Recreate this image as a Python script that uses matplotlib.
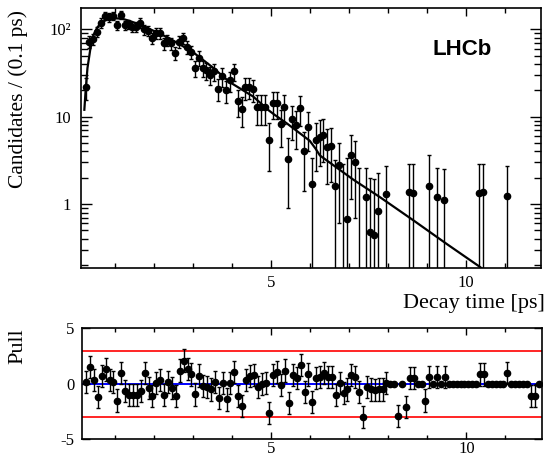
import numpy as np
import matplotlib
matplotlib.use('Agg')
import matplotlib.pyplot as plt
from matplotlib.ticker import FixedLocator, FixedFormatter, LogLocator, MultipleLocator, NullFormatter

plt.rcParams['font.family'] = ['Liberation Serif', 'DejaVu Serif']

nan = np.nan

# bin centres, 0.1 ps bins
t_bins = np.round(0.25 + 0.1 * np.arange(117), 2)

# weighted candidates per bin (nan = nothing drawn in the upper panel)
counts = [21.7, 72, 77, 94, 119, 142, 137, 142, 112, 146,
          112, 115, 107, 107, 119, 100, 96, 79, 90, 90,
          69, 75, 69, 54, 72, 79, 63, 55, 36, 47,
          36, 34, 30, 33, 21, 29, 20, 26, 33, 15,
          12.3, 21.7, 22, 20.6, 12.8, 12.8, 12.8, 5.4, 14.2, 14.2,
          8.2, 13, 3.3, 9.4, 8.0, 12.5, 4.0, 7.7, 1.7, 5.4,
          5.9, 6.2, 4.5, 4.6, 1.6, 2.8, 0.1, 0.67, 3.65, 3.0,
          0.1, nan, 1.2, 0.48, 0.44, 0.83, nan, 1.3, nan, nan,
          nan, nan, nan, 1.39, 1.35, nan, nan, nan, 1.62, nan,
          1.2, nan, 1.1, nan, nan, nan, nan, nan, nan, nan,
          nan, 1.35, 1.39, nan, nan, nan, nan, nan, 1.25, nan,
          nan, nan, nan, nan, nan, nan, nan]

count_err = [6.1, 11, 11.4, 12.6, 14.2, 15.5, 15.2, 15.5, 13.8, 15.7,
             13.8, 13.9, 13.4, 13.4, 14.2, 13, 12.7, 11.6, 12.3, 12.3,
             10.8, 11.3, 10.8, 9.6, 11, 11.6, 10.3, 9.6, 7.8, 8.9,
             7.8, 7.6, 7.1, 7.5, 6, 7, 5.8, 6.6, 7.5, 5,
             4.6, 6.1, 6.1, 5.9, 4.7, 4.7, 4.7, 3, 4.9, 4.9,
             3.7, 4.7, 2.4, 4, 3.7, 4.6, 2.6, 3.6, 1.7, 3,
             3.2, 3.2, 2.8, 2.8, 1.6, 2.2, 2.8, 2.7, 2.5, 2.3,
             2.5, nan, 1.4, 1.5, 1.5, 1.45, nan, 1.45, nan, nan,
             nan, nan, nan, 1.5, 1.5, nan, nan, nan, 2.0, nan,
             1.4, nan, 1.4, nan, nan, nan, nan, nan, nan, nan,
             nan, 1.5, 1.5, nan, nan, nan, nan, nan, 1.45, nan,
             nan, nan, nan, nan, nan, nan, nan]

pulls = [0.18, 1.5, 0.33, -1.2, 0.7, 1.3, 0.33, 0.18, -1.5, 1.0,
         -0.66, -1.0, -1.0, -1.0, -0.66, 1.0, -0.4, -1.1, 0.1, 0.33,
         -1.0, 0.18, -0.4, -1.1, 1.2, 2.1, 1.35, 0.85, -0.95, 0.75,
         -0.2, -0.25, -0.5, 0.18, -1.3, 0.1, -1.4, 0.1, 1.1, -1.1,
         -2.0, 0.33, 0.7, 0.8, -0.3, 0.0, 0.1, -2.6, 0.8, 1.1,
         -0.1, 1.2, -1.7, 0.8, 0.5, 1.7, -0.7, 0.85, -1.6, 0.5,
         0.65, 1.0, 0.65, 0.65, -1.0, 0.1, -0.85, -0.5, 0.8, 0.65,
         -0.7, -3.0, -0.3, -0.5, -0.55, -0.5, -0.5, 0.1, 0, 0,
         -2.9, 0, -2.1, 0.5, 0.5, 0, 0, -1.5, 0.65, 0,
         0.65, 0, 0.65, 0, 0, 0, 0, 0, 0, 0,
         0, 0.85, 0.85, 0, 0, 0, 0, 0, 1.0, 0,
         0, 0, 0, 0, -1.1, -1.1, 0]

# bins with no candidates: pull drawn at 0 without error bar
empty_bins = [78, 79, 81, 85, 86, 89, 91, 93, 94, 95, 96, 97, 98, 99, 100,
              103, 104, 105, 106, 107, 109, 110, 111, 112, 113, 116]

# fitted decay-time model
fit_t = [0.22, 0.25, 0.3, 0.37, 0.45, 0.55, 0.65, 0.8, 1.0, 1.2, 1.4, 1.7, 2.0,
         2.4, 3.0, 3.5, 3.94, 4.55, 4.95, 5.1, 5.41, 6.0, 6.15, 6.26, 7.12,
         7.8, 8.66, 9.51, 10.37, 10.5]
fit_val = [12, 19, 36, 58, 85, 105, 118, 130, 134, 132, 124, 110, 96,
           79, 55, 37, 25, 17, 11.8, 10.5, 8.4, 5.3, 4.3, 3.6, 1.9,
           1.2, 0.65, 0.35, 0.19, 0.17]

counts = np.array(counts, dtype=float)
count_err = np.array(count_err, dtype=float)
pulls = np.array(pulls, dtype=float)
pull_err = np.ones(len(pulls))
pull_err[empty_bins] = 0

lo = np.where(counts - count_err > 0, count_err, counts - 1e-3)

fig = plt.figure(figsize=(5.46, 4.57), dpi=100)
ax = fig.add_axes([0.1484, 0.4129, 0.8425, 0.5689])
axp = fig.add_axes([0.1496, 0.0383, 0.8425, 0.2433])

xlim = (0.135, 11.93)

ax.plot(fit_t, fit_val, color='black', lw=1.6, zorder=3)
ax.errorbar(t_bins, counts, yerr=[lo, count_err], fmt='o', color='black',
            ms=4.5, elinewidth=1.0, capsize=1.5, capthick=1.0, zorder=4)
ax.set_yscale('log')
ax.set_xlim(*xlim)
ax.set_ylim(0.184, 174)
ax.yaxis.set_major_locator(FixedLocator([1, 10, 100]))
ax.yaxis.set_major_formatter(FixedFormatter(['1', '10', '10²']))
ax.yaxis.set_minor_locator(LogLocator(base=10, subs=np.arange(2, 10), numticks=20))
ax.yaxis.set_minor_formatter(NullFormatter())
ax.xaxis.set_major_locator(MultipleLocator(5))
ax.xaxis.set_minor_locator(MultipleLocator(1))
ax.tick_params(which='both', direction='in', top=True, right=True, labelsize=12, width=1)
ax.tick_params(axis='x', which='major', length=6, pad=5)
ax.tick_params(axis='x', which='minor', length=3.5)
ax.tick_params(axis='y', which='major', length=8, pad=7)
ax.tick_params(axis='y', which='minor', length=5)
for s in ax.spines.values():
    s.set_linewidth(1.2)

ax.set_ylabel('Candidates / (0.1 ps)', fontsize=15.5, loc='top')
ax.yaxis.set_label_coords(-0.116, 0.995)
ax.set_xlabel('Decay time [ps]', fontsize=16, loc='right')
ax.xaxis.set_label_coords(1.009, -0.1)
ax.text(0.829, 0.84, 'LHCb', transform=ax.transAxes, ha='center', va='center',
        fontsize=16, fontweight='bold', family='Liberation Sans')

# pull panel
axp.axhline(3, color='red', lw=1.2, zorder=1)
axp.axhline(-3, color='red', lw=1.2, zorder=1)
axp.axhline(0, color='blue', lw=1.4, zorder=1)
axp.errorbar(t_bins, pulls, yerr=pull_err, fmt='o', color='black',
             ms=4.5, elinewidth=1.0, capsize=1.5, capthick=1.0, zorder=3)
axp.set_xlim(*xlim)
axp.set_ylim(-5, 5)
axp.yaxis.set_major_locator(FixedLocator([-5, 0, 5]))
axp.yaxis.set_major_formatter(FixedFormatter(['-5', '0', '5']))
axp.xaxis.set_major_locator(MultipleLocator(5))
axp.xaxis.set_minor_locator(MultipleLocator(1))
axp.tick_params(which='both', direction='in', top=True, right=True, labelsize=12, width=1)
axp.tick_params(axis='x', which='major', length=5, pad=1)
axp.tick_params(axis='x', which='minor', length=3)
axp.tick_params(axis='y', which='major', length=6, pad=5)
for s in axp.spines.values():
    s.set_linewidth(1.2)
axp.set_ylabel('Pull', fontsize=16, loc='top')
axp.yaxis.set_label_coords(-0.118, 1.0)

fig.savefig('out.png', dpi=100)
